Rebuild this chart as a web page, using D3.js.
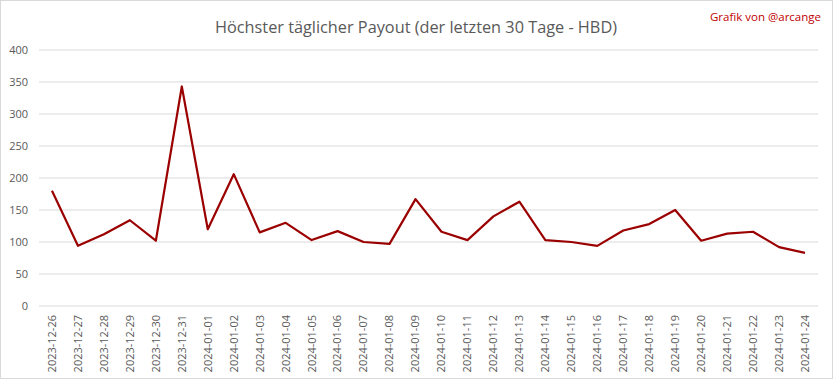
<!DOCTYPE html>
<html><head><meta charset="utf-8">
<script src="https://cdn.jsdelivr.net/npm/d3@7"></script>
<style>body{margin:0;background:#fff}svg{display:block}</style>
</head><body>
<script>
const dates = ["2023-12-26","2023-12-27","2023-12-28","2023-12-29","2023-12-30","2023-12-31","2024-01-01","2024-01-02","2024-01-03","2024-01-04","2024-01-05","2024-01-06","2024-01-07","2024-01-08","2024-01-09","2024-01-10","2024-01-11","2024-01-12","2024-01-13","2024-01-14","2024-01-15","2024-01-16","2024-01-17","2024-01-18","2024-01-19","2024-01-20","2024-01-21","2024-01-22","2024-01-23","2024-01-24"];
const payout = [180,94,112,134,102,343,120,206,115,130,103,117,100,97,167,116,103,140,163,103,100,94,118,128,150,102,113,116,92,83];
const yTicks = [0,50,100,150,200,250,300,350,400];
const title = "Höchster täglicher Payout (der letzten 30 Tage - HBD)";
const credit = "Grafik von @arcange";

const W = 833, H = 379;
const svg = d3.select("body").append("svg").attr("width", W).attr("height", H);
svg.append("rect").attr("x",0.5).attr("y",0.5).attr("width",W-1).attr("height",H-1)
  .attr("fill","#fff").attr("stroke","#d9d9d9");

const x = d3.scaleBand().domain(dates).range([39, 818]);
const y = d3.scaleLinear().domain([0,400]).range([306, 50]);

const font = "'Open Sans',sans-serif";

svg.append("g").selectAll("line").data(yTicks).join("line")
  .attr("x1",39).attr("x2",818).attr("y1",d=>y(d)).attr("y2",d=>y(d))
  .attr("stroke","#d9d9d9").attr("stroke-width",1);

const ya = svg.append("g").attr("transform","translate(28,0)")
  .call(d3.axisLeft(y).tickValues(yTicks).tickSize(0).tickPadding(0));
ya.select(".domain").remove();
ya.selectAll("text").attr("fill","#595959").style("font-family",font).style("font-size","11px");

const xa = svg.append("g").attr("transform","translate(0,306)")
  .call(d3.axisBottom(x).tickSize(0).tickPadding(0));
xa.select(".domain").remove();
xa.selectAll("text").attr("fill","#595959").style("font-family",font).style("font-size","11px")
  .attr("text-anchor","end").attr("dy","0.35em")
  .attr("transform","translate(0,9) rotate(-90)");

const line = d3.line().x((d,i)=>x(dates[i])+x.bandwidth()/2).y(d=>y(d));
svg.append("path").datum(payout).attr("d",line).attr("fill","none")
  .attr("stroke","#9b0000").attr("stroke-width",2.2).attr("stroke-linejoin","round");

svg.append("text").attr("x",416).attr("y",33).attr("text-anchor","middle")
  .attr("fill","#595959").style("font-family",font).style("font-size","16.3px").text(title);
svg.append("text").attr("x",821).attr("y",21).attr("text-anchor","end")
  .attr("fill","#c00000").style("font-family",font).style("font-size","11.5px").text(credit);
</script>
</body></html>
